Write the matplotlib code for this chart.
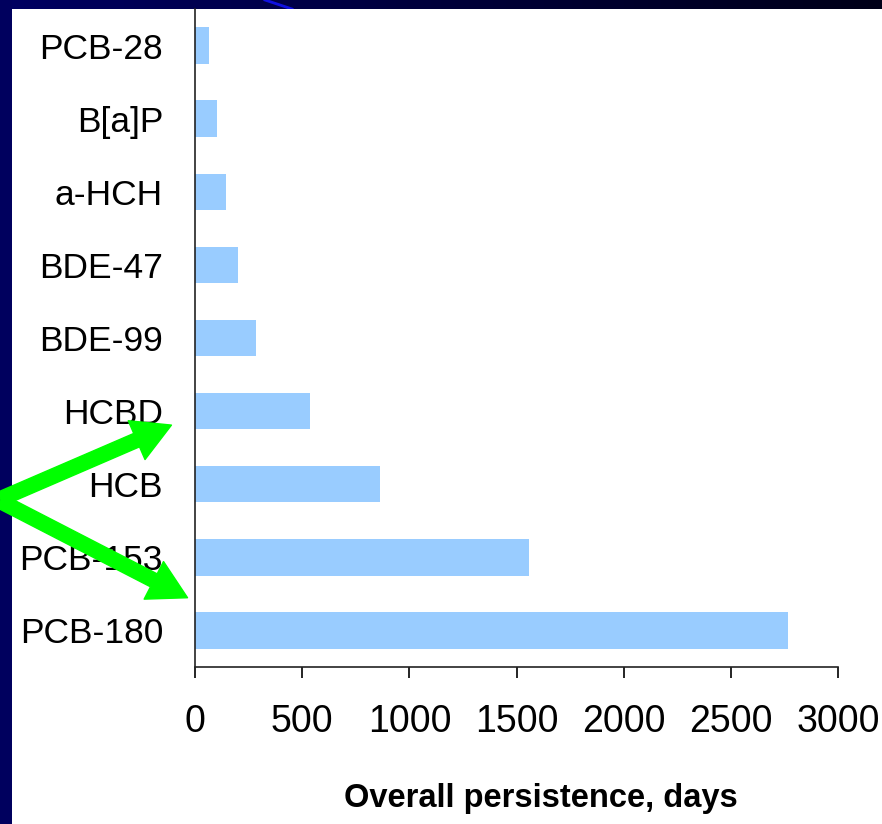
import numpy as np
import matplotlib
matplotlib.use("Agg")
import matplotlib.pyplot as plt
from matplotlib.patches import FancyArrowPatch, Rectangle

plt.rcParams["font.family"] = ["Liberation Sans", "DejaVu Sans"]

# persistence per compound (days), top to bottom
compounds = ["PCB-28", "B[a]P", "a-HCH", "BDE-47", "BDE-99",
             "HCBD", "HCB", "PCB-153", "PCB-180"]
persistence = [65, 103, 145, 200, 285, 537, 863, 1558, 2767]
x_ticks = [0, 500, 1000, 1500, 2000, 2500, 3000]

BAR_COLOR = "#99CCFF"
NAVY = "#00005E"
ARROW_GREEN = "#00FF00"

W, H = 882, 824
fig = plt.figure(figsize=(W / 100, H / 100), dpi=100)
fig.patch.set_facecolor("white")

# slide frame: navy strip on the left, gradient strip on top
fig.patches.append(Rectangle((0, 0), 12 / W, 1, transform=fig.transFigure,
                             facecolor=NAVY, edgecolor="none", zorder=0))
band = fig.add_axes([0, 1 - 9 / H, 1, 9 / H])
grad = np.linspace(0, 1, 256)[None, :]
band.imshow(grad, aspect="auto", extent=[0, 1, 0, 1],
            cmap=matplotlib.colors.LinearSegmentedColormap.from_list(
                "band", ["#000062", "#00003A", "#000018"]))
band.plot([265 / W, 292 / W], [1, 0], color="#1010E0", lw=2)
band.set_xlim(0, 1)
band.set_ylim(0, 1)
band.axis("off")

ax = fig.add_axes([195 / W, 1 - 667 / H, (838.3 - 195) / W, (667 - 9) / H])
y = np.arange(len(compounds))
ax.barh(y, persistence, height=0.5, color=BAR_COLOR, edgecolor="none")
ax.set_ylim(len(compounds) - 0.5, -0.5)
ax.set_xlim(0, 3000)
ax.set_yticks(y)
ax.set_yticklabels(compounds, fontsize=25.5)
ax.set_xticks(x_ticks)
ax.set_xticklabels([str(t) for t in x_ticks], fontsize=27)
ax.tick_params(axis="y", length=0, pad=23)
ax.tick_params(axis="x", direction="out", length=8, width=1.2, pad=19)
for side in ("top", "right"):
    ax.spines[side].set_visible(False)
for side in ("left", "bottom"):
    ax.spines[side].set_linewidth(1.2)
    ax.spines[side].set_color("#222222")

fig.text(541 / W, 1 - 798 / H, "Overall persistence, days",
         ha="center", va="center", fontsize=23.5, fontweight="bold")

# green pointer arrows
start = (-2, 824 - 500)
for tip in [(174, 824 - 424), (190, 824 - 599)]:
    arr = FancyArrowPatch(start, tip, transform=None,
                          arrowstyle="simple,head_length=1.3,head_width=1.45,tail_width=0.5",
                          mutation_scale=21, color=ARROW_GREEN, zorder=10)
    fig.patches.append(arr)

fig.savefig("out.png", dpi=100)
